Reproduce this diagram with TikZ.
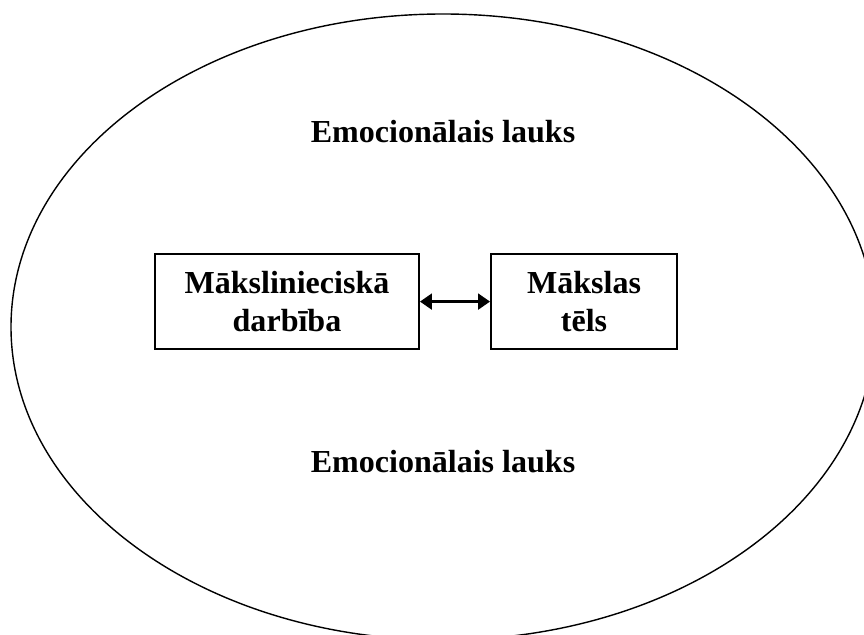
\documentclass[tikz,border=0pt]{standalone}
\usepackage{fontspec}
\setmainfont{Liberation Serif}
\usetikzlibrary{arrows.meta}
\tikzset{>={Triangle[length=0.3cm, width=0.4cm]}}

\begin{document}
\begin{tikzpicture}[font=\bfseries\fontsize{22.8}{27.5}\selectfont]

  \tikzset{blk/.style={draw, line width=1.4pt, minimum height=2.375cm,
                       align=center, inner sep=0pt}}

  \useasboundingbox (0,0) rectangle (21.6,15.85);
  \clip (0,0) rectangle (21.6,15.85);

  % emotional field
  \draw[line width=1pt] (11.075,7.675) ellipse (10.8cm and 7.825cm);
  \node[anchor=base] (top) at (11.075,12.275) {Emocionālais lauks};
  \node[anchor=base] (bot) at (11.075,4.025) {Emocionālais lauks};

  % activity and image
  \node[blk, minimum width=6.6cm] (act) at (7.175,8.31) {Mākslinieciskā\\darbība};
  \node[blk, minimum width=4.65cm] (img) at (14.6,8.31) {Mākslas\\tēls};

  \draw[<->, line width=1.6pt] (act.east) -- (img.west);

\end{tikzpicture}
\end{document}
